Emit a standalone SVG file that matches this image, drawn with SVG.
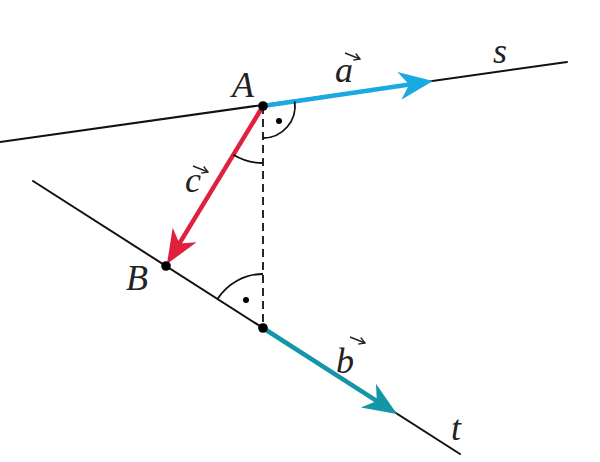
<svg xmlns="http://www.w3.org/2000/svg" width="600" height="462" viewBox="0 0 600 462">
<style>
.ln{stroke:#111;stroke-width:2;fill:none;stroke-linecap:round}
.arc{stroke:#111;stroke-width:1.8;fill:none}
.lbl{font-family:"Liberation Serif",serif;font-style:italic;font-size:36px;fill:#222}
.va{stroke:#222;stroke-width:1.4;fill:none}
.pt{fill:#000}
</style>
<defs>
<marker id="ha" viewBox="-36 -15 38 30" markerWidth="38" markerHeight="30" refX="-22" refY="0" orient="auto" markerUnits="userSpaceOnUse">
<path d="M0,0 L-34,-14 L-24,0 L-34,14 Z" fill="#1ba9e1"/>
</marker>
<marker id="hb" viewBox="-36 -15 38 30" markerWidth="38" markerHeight="30" refX="-22" refY="0" orient="auto" markerUnits="userSpaceOnUse">
<path d="M0,0 L-34,-14 L-24,0 L-34,14 Z" fill="#1596a8"/>
</marker>
<marker id="hc" viewBox="-36 -15 38 30" markerWidth="38" markerHeight="30" refX="-22" refY="0" orient="auto" markerUnits="userSpaceOnUse">
<path d="M0,0 L-34,-14 L-24,0 L-34,14 Z" fill="#e0203f"/>
</marker>
<marker id="sv" viewBox="-7 -4 8 8" markerWidth="8" markerHeight="8" refX="0" refY="0" orient="auto" markerUnits="userSpaceOnUse">
<path d="M-6,-3.5 L0,0 L-6,3.5" fill="none" stroke="#222" stroke-width="1.3"/>
</marker>
</defs>
<g id="lines">
<line id="s" class="ln" x1="0" y1="142" x2="567" y2="62"/>
<line id="t" class="ln" x1="33" y1="181" x2="460" y2="454"/>
<line id="perp" x1="263" y1="106" x2="263" y2="328" stroke="#111" stroke-width="1.8" stroke-dasharray="8,5"/>
</g>
<g id="connectors">
<line id="vec-a" x1="263" y1="106" x2="411.2" y2="84.2" stroke="#1ba9e1" stroke-width="4.5" marker-end="url(#ha)"/>
<line id="vec-b" x1="263" y1="328" x2="378.5" y2="402.1" stroke="#1596a8" stroke-width="4.5" marker-end="url(#hb)"/>
<line id="vec-c" x1="263" y1="106" x2="178.4" y2="245.2" stroke="#e0203f" stroke-width="4.5" marker-end="url(#hc)"/>
</g>
<g id="angles">
<path class="arc" d="M294.7,101.5 A32,32 0 0 1 263,138"/>
<circle class="pt" cx="279" cy="121" r="3"/>
<path class="arc" d="M233.4,154.7 A57,57 0 0 0 263,163"/>
<path class="arc" d="M263,274 A54,54 0 0 0 217.5,299"/>
<circle class="pt" cx="246" cy="300" r="3"/>
</g>
<g id="points">
<circle id="A" class="pt" cx="263" cy="106" r="4.8"/>
<circle id="B" class="pt" cx="166" cy="266" r="4.8"/>
<circle id="F" class="pt" cx="263" cy="328" r="4.8"/>
</g>
<g id="labels">
<text class="lbl" x="232" y="97">A</text>
<text class="lbl" x="126" y="290">B</text>
<text class="lbl" x="493" y="63">s</text>
<text class="lbl" x="451" y="440">t</text>
<text class="lbl" x="335" y="82">a</text>
<path class="va" d="M345,53 L360,59" marker-end="url(#sv)"/>
<text class="lbl" x="185" y="192">c</text>
<path class="va" d="M193,166 L208,172" marker-end="url(#sv)"/>
<text class="lbl" x="336" y="373">b</text>
<path class="va" d="M350,337 L365,343" marker-end="url(#sv)"/>
</g>
</svg>
